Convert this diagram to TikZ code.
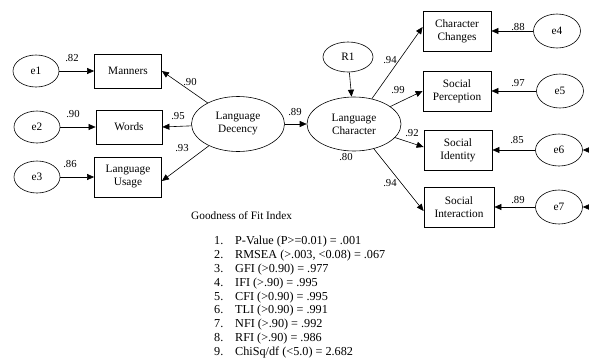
\documentclass[tikz,border=0pt]{standalone}
\usepackage{fontspec}
\setmainfont{Liberation Serif}
\usetikzlibrary{arrows.meta,shapes.geometric}
\begin{document}
\begin{tikzpicture}[x=1pt,y=-1pt,
  every node/.style={font=\fontsize{11.3}{13}\selectfont},
  lat/.style={ellipse,draw,semithick,inner sep=0pt,align=center},
  obs/.style={rectangle,draw,thick,inner sep=0pt,align=center},
  arr/.style={-{Triangle[length=7pt,width=6pt]},semithick},
  lbl/.style={inner sep=0pt,font=\fontsize{10.7}{12}\selectfont},
  gof/.style={inner sep=0pt,anchor=base west,font=\fontsize{12.2}{14}\selectfont}
]
\useasboundingbox (0,0) rectangle (589,359);
% left error terms and indicators
\node[lat,minimum width=46pt,minimum height=32pt] (e1) at (36,71) {e1};
\node[lat,minimum width=46pt,minimum height=32pt] (e2) at (37,127) {e2};
\node[lat,minimum width=46pt,minimum height=32pt] (e3) at (37,177) {e3};
\node[obs,minimum width=67pt,minimum height=34pt] (man) at (128,71) {Manners};
\node[obs,minimum width=66pt,minimum height=34pt] (wor) at (129,127) {Words};
\node[obs,minimum width=67pt,minimum height=40pt] (usa) at (128,177) {Language\\Usage};
% latent variables
\node[lat,minimum width=93pt,minimum height=55pt] (dec) at (238,124) {Language\\Decency};
\node[lat,minimum width=94pt,minimum height=54pt] (cha) at (354,124) {Language\\Character};
\node[lat,minimum width=50pt,minimum height=30pt] (r1) at (348,57) {R1};
% right indicators
\node[obs,minimum width=68pt,minimum height=40pt] (cc) at (457,31) {Character\\Changes};
\node[obs,minimum width=68pt,minimum height=40pt] (sp) at (457,91) {Social\\Perception};
\node[obs,minimum width=68pt,minimum height=40pt] (si) at (458,150) {Social\\Identity};
\node[obs,minimum width=70pt,minimum height=40pt] (sx) at (459,207) {Social\\Interaction};
\node[lat,minimum width=47pt,minimum height=34pt] (e4) at (557,31) {e4};
\node[lat,minimum width=47pt,minimum height=34pt] (e5) at (560,91) {e5};
\node[lat,minimum width=47pt,minimum height=32pt] (e6) at (559,150) {e6};
\node[lat,minimum width=47pt,minimum height=34pt] (e7) at (559,207) {e7};
\coordinate (x6) at (610,150);
\coordinate (x7) at (610,207);
% connectors
\draw[arr] (e1) -- (man);
\draw[arr] (e2) -- (wor);
\draw[arr] (e3) -- (usa);
\draw[arr] (dec) -- (man.east);
\draw[arr] (dec) -- (wor.east);
\draw[arr] (dec) -- ([yshift=-4pt]usa.east);
\draw[arr] (dec) -- (cha);
\draw[arr] (r1) -- (cha);
\draw[arr] (cha) -- ([yshift=4pt]cc.west);
\draw[arr] (cha) -- (sp.west);
\draw[arr] (cha) -- ([yshift=3pt]si.west);
\draw[arr] (cha) -- ([yshift=-4pt]sx.west);
\draw[arr] (e4) -- (cc);
\draw[arr] (e5) -- (sp);
\draw[arr] (e6) -- (si);
\draw[arr] (e7) -- (sx);
\draw[arr] (x6) -- (e6);
\draw[arr] (x7) -- (e7);
% path labels
\node[lbl] (l1) at (72,58) {.82};
\node[lbl] (l2) at (73,114) {.90};
\node[lbl] (l3) at (70,164) {.86};
\node[lbl] (l4) at (190,82) {.90};
\node[lbl] (l5) at (178,116) {.95};
\node[lbl] (l6) at (182,148) {.93};
\node[lbl] (l7) at (295,112) {.89};
\node[lbl] (l8) at (346,157) {.80};
\node[lbl] (l9) at (390,60) {.94};
\node[lbl] (l10) at (398,90) {.99};
\node[lbl] (l11) at (412,133) {.92};
\node[lbl] (l12) at (390,183) {.94};
\node[lbl] (l13) at (518,27) {.88};
\node[lbl] (l14) at (518,83) {.97};
\node[lbl] (l15) at (517,140) {.85};
\node[lbl] (l16) at (518,200) {.89};
% goodness of fit
\node[gof,font=\fontsize{11.3}{13}\selectfont] (title) at (191,219) {Goodness of Fit Index};
\foreach \n/\t [count=\i] in {1/{P-Value (P>=0.01) = .001},2/{RMSEA (>.003, <0.08) = .067},3/{GFI (>0.90) = .977},4/{IFI (>.90) = .995},5/{CFI (>0.90) = .995},6/{TLI (>0.90) = .991},7/{NFI (>.90) = .992},8/{RFI (>.90) = .986},9/{ChiSq/df (<5.0) = 2.682}}{
  \node[gof] (n\i) at (214,{231+13.8*\i}) {\n.};
  \node[gof] (t\i) at (235,{231+13.8*\i}) {\t};
}
\end{tikzpicture}
\end{document}
